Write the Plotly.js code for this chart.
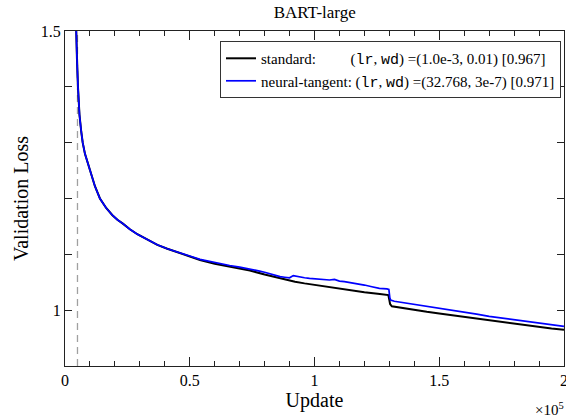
<!DOCTYPE html>
<html>
<head>
<meta charset="utf-8">
<script src="https://cdn.plot.ly/plotly-3.0.1.min.js"></script>
<style>html,body{margin:0;padding:0;background:#fff;} #chart{width:566px;height:419px;}</style>
</head>
<body>
<div id="chart"></div>
<script>
// Update (in units of 1e5) and validation loss
const stdUpdate = [0.030,0.040,0.044,0.048,0.052,0.058,0.065,0.071,0.080,0.090,0.100,0.120,0.140,0.165,0.190,0.210,0.232,0.260,0.290,0.333,0.370,0.410,0.461,0.500,0.541,0.600,0.660,0.700,0.741,0.800,0.862,0.922,0.960,1.002,1.062,1.100,1.150,1.200,1.262,1.290,1.296,1.300,1.303,1.310,1.350,1.400,1.450,1.500,1.550,1.600,1.650,1.700,1.750,1.800,1.850,1.900,1.950,2.000];
const stdLoss   = [1.750,1.560,1.500,1.450,1.400,1.350,1.320,1.300,1.280,1.265,1.250,1.222,1.200,1.183,1.170,1.162,1.155,1.145,1.136,1.125,1.117,1.110,1.102,1.096,1.090,1.083,1.078,1.075,1.071,1.064,1.057,1.051,1.048,1.045,1.041,1.038,1.035,1.032,1.029,1.028,1.027,1.018,1.011,1.007,1.004,1.000,0.997,0.994,0.991,0.988,0.984,0.981,0.978,0.975,0.972,0.970,0.967,0.965];

const ntkUpdate = [0.030,0.040,0.044,0.048,0.052,0.058,0.065,0.071,0.080,0.090,0.100,0.120,0.140,0.165,0.190,0.210,0.232,0.260,0.290,0.333,0.370,0.410,0.461,0.500,0.541,0.600,0.660,0.700,0.741,0.780,0.800,0.830,0.862,0.880,0.900,0.915,0.925,0.940,0.960,0.980,1.000,1.020,1.040,1.060,1.080,1.100,1.120,1.150,1.180,1.200,1.230,1.260,1.290,1.298,1.302,1.305,1.320,1.350,1.400,1.450,1.500,1.550,1.600,1.650,1.700,1.750,1.800,1.850,1.900,1.950,2.000];
const ntkLoss   = [1.750,1.560,1.500,1.450,1.400,1.350,1.320,1.300,1.280,1.265,1.250,1.222,1.200,1.183,1.170,1.162,1.155,1.145,1.136,1.125,1.117,1.110,1.102,1.097,1.091,1.085,1.080,1.077,1.074,1.070,1.068,1.064,1.060,1.059,1.058,1.062,1.061,1.059,1.058,1.057,1.056,1.055,1.054,1.054,1.055,1.052,1.051,1.049,1.046,1.045,1.042,1.039,1.038,1.037,1.022,1.018,1.016,1.014,1.010,1.007,1.004,1.000,0.996,0.993,0.989,0.986,0.983,0.980,0.977,0.974,0.971];

const warmup = 0.05;
const seriesNames = ['standard:', 'neural-tangent:'];
const seriesSettings = ['(1.0e-3, 0.01)', '(32.768, 3e-7)'];
const seriesScores = ['[0.967]', '[0.971]'];
const xTickVals = [0, 0.5, 1, 1.5, 2];
const xTickText = ['0', '0.5', '1', '1.5', '2'];
const yTickVals = [1, 1.5];
const yTickText = ['1', '1.5'];

const serif = "'Liberation Serif', serif";
const monoOpen = "<span style=\"font-family:'Liberation Mono', monospace\">";
const lrwd = '(' + monoOpen + 'lr</span>, ' + monoOpen + 'wd</span>) =';
const pad = '<span style="color:rgba(0,0,0,0)">nnnil</span>';

function legendName(i) {
  return seriesNames[i] + (i === 0 ? pad : '') + ' ' + lrwd + seriesSettings[i] + ' ' + seriesScores[i];
}

const traces = [
  {x:[warmup, warmup], y:[0.9, 1.5], mode:'lines', showlegend:false, hoverinfo:'skip',
   line:{color:'#a0a0a0', width:1.3, dash:'7px,5px'}},
  {x:stdUpdate, y:stdLoss, mode:'lines', name:legendName(0), line:{color:'#000000', width:2}},
  {x:ntkUpdate, y:ntkLoss, mode:'lines', name:legendName(1), line:{color:'#0000ff', width:1.7}}
];

const layout = {
  width:566, height:419,
  margin:{l:65, r:2, t:31, b:53},
  font:{family:serif, size:16, color:'#000'},
  title:{text:'BART-large', font:{family:serif, size:17, color:'#000'}, x:0.556, xanchor:'center', yref:'container', y:0.971, yanchor:'middle'},
  showlegend:true,
  legend:{x:0.994, xanchor:'right', y:0.970, yanchor:'top', bgcolor:'#fff', bordercolor:'#333', borderwidth:1,
          font:{family:serif, size:15, color:'#000'}, tracegroupgap:0, itemwidth:30},
  xaxis:{
    range:[0, 2], tickmode:'array', tickvals:xTickVals, ticktext:xTickText,
    ticks:'inside', ticklen:9, tickwidth:1, tickcolor:'#222', ticklabeloverflow:'allow',
    minor:{dtick:0.1, ticks:'inside', ticklen:5},
    showgrid:false, zeroline:false, showline:true, linecolor:'#222', mirror:'allticks',
    tickfont:{family:serif, size:16, color:'#000'},
    title:{text:'Update', font:{family:serif, size:20, color:'#000'}, standoff:1}},
  yaxis:{
    range:[0.9, 1.5], tickmode:'array', tickvals:yTickVals, ticktext:yTickText,
    ticks:'inside', ticklen:7, tickwidth:1, tickcolor:'#222',
    minor:{tick0:0.9, dtick:0.1, ticks:'inside', ticklen:7},
    showgrid:false, zeroline:false, showline:true, linecolor:'#222', mirror:'allticks',
    tickfont:{family:serif, size:16, color:'#000'},
    title:{text:'Validation Loss', font:{family:serif, size:20, color:'#000'}, standoff:6}},
  annotations:[{xref:'paper', yref:'paper', x:1.004, y:-0.095, xanchor:'right', yanchor:'top', showarrow:false,
                text:'×10<sup>5</sup>', font:{family:serif, size:15, color:'#000'}}]
};

Plotly.newPlot('chart', traces, layout, {displayModeBar:false});
</script>
</body>
</html>
